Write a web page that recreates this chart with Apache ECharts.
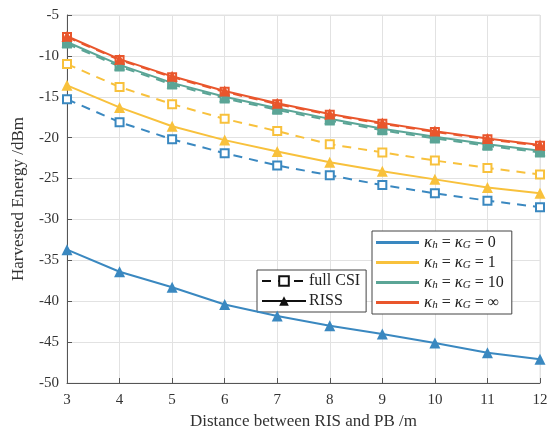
<!DOCTYPE html>
<html>
<head>
<meta charset="utf-8">
<script src="https://cdn.jsdelivr.net/npm/echarts@6/dist/echarts.min.js"></script>
<style>
  html, body { margin: 0; padding: 0; background: #fff; }
  #chart { width: 556px; height: 435px; }
</style>
</head>
<body>
<div id="chart"></div>
<script>
// distance between RIS and PB (m)
const distance = [3, 4, 5, 6, 7, 8, 9, 10, 11, 12]
const yTicks = [-50, -5]

// full CSI (dashed, squares)
const csi0 = [-15.3, -18.1, -20.2, -21.9, -23.4, -24.6, -25.8, -26.8, -27.7, -28.5]
const csi1 = [-11.0, -13.8, -15.9, -17.7, -19.2, -20.8, -21.8, -22.8, -23.7, -24.5]
const csi10 = [-8.5, -11.3, -13.5, -15.2, -16.6, -17.9, -19.1, -20.1, -21.0, -21.8]
const csiInf = [-7.7, -10.5, -12.6, -14.4, -15.9, -17.2, -18.3, -19.3, -20.2, -21.0]

// RISS (solid, triangles)
const riss0 = [-33.7, -36.4, -38.3, -40.4, -41.8, -43.0, -44.0, -45.1, -46.3, -47.1]
const riss1 = [-13.6, -16.3, -18.6, -20.3, -21.7, -23.0, -24.1, -25.1, -26.1, -26.8]
const riss10 = [-8.3, -11.1, -13.3, -15.0, -16.4, -17.7, -18.9, -19.9, -20.8, -21.6]
const rissInf = [-7.6, -10.4, -12.5, -14.3, -15.8, -17.1, -18.2, -19.2, -20.1, -20.9]

const kappaNames = ['k0', 'k1', 'k10', 'kInf']
const kappaLabels = ['0', '1', '10', '∞']
const colors = ['#3a88c0', '#f8c13c', '#5ba596', '#e9562c']

const font = 'Liberation Serif'

const toPairs = (ys) => distance.map((x, i) => [x, ys[i]])

function csiSeries(ys, color) {
    return {
        type: 'line',
        name: 'csi-' + color,
        data: toPairs(ys),
        symbol: 'emptyRect',
        symbolSize: 8,
        lineStyle: { color: color, width: 2, type: [9, 7] },
        itemStyle: { color: color, borderWidth: 2 },
        animation: false,
        z: 3
    }
}

function rissSeries(ys, color) {
    return {
        type: 'line',
        name: 'riss-' + color,
        data: toPairs(ys),
        symbol: 'triangle',
        symbolSize: 11,
        lineStyle: { color: color, width: 2 },
        itemStyle: { color: color },
        animation: false,
        z: 4
    }
}

const series = []
const csiAll = [csi0, csi1, csi10, csiInf]
const rissAll = [riss0, riss1, riss10, rissInf]
for (let i = 0; i < 4; i++) {
    series.push(csiSeries(csiAll[i], colors[i]))
    series.push(rissSeries(rissAll[i], colors[i]))
}

// legend-only series
series.push({
    type: 'line', name: 'full CSI', data: [], symbol: 'rect', symbolSize: 8,
    lineStyle: { color: '#111', width: 2, type: [9, 7] },
    itemStyle: { color: '#fff', borderColor: '#111', borderWidth: 2 }
})
series.push({
    type: 'line', name: 'RISS', data: [], symbol: 'triangle', symbolSize: 11,
    lineStyle: { color: '#111', width: 2 },
    itemStyle: { color: '#111' }
})
kappaNames.forEach((n, i) => {
    series.push({
        type: 'line', name: n, data: [], symbol: 'none',
        lineStyle: { color: colors[i], width: 2.5 },
        itemStyle: { color: colors[i] }
    })
})

const option = {
    backgroundColor: '#fff',
    animation: false,
    grid: {
        left: 67, right: 16, top: 15, bottom: 49,
        show: true, borderColor: '#e2e2e2', borderWidth: 1
    },
    xAxis: {
        type: 'value',
        min: 3, max: 12, interval: 1,
        name: 'Distance between RIS and PB /m',
        nameLocation: 'middle',
        nameGap: 30,
        nameTextStyle: { fontFamily: font, fontSize: 17, color: '#333' },
        axisLine: { lineStyle: { color: '#555', width: 1 } },
        axisTick: { inside: true, length: 5, lineStyle: { color: '#555' } },
        axisLabel: { fontFamily: font, fontSize: 15, color: '#333', margin: 10 },
        splitLine: { show: true, lineStyle: { color: '#e2e2e2', width: 1 } }
    },
    yAxis: {
        type: 'value',
        min: yTicks[0], max: yTicks[1], interval: 5,
        name: 'Harvested Energy /dBm',
        nameLocation: 'middle',
        nameGap: 40,
        nameTextStyle: { fontFamily: font, fontSize: 17, color: '#333' },
        axisLine: { show: true, lineStyle: { color: '#555', width: 1 } },
        axisTick: { show: true, inside: true, length: 5, lineStyle: { color: '#555' } },
        axisLabel: { fontFamily: font, fontSize: 15, color: '#333', margin: 8 },
        splitLine: { show: true, lineStyle: { color: '#e2e2e2', width: 1 } }
    },
    legend: [
        {
            data: ['full CSI', 'RISS'],
            orient: 'vertical',
            left: 257, top: 270,
            padding: [3, 6, 3, 4],
            itemWidth: 44, itemHeight: 12, itemGap: 4,
            backgroundColor: '#fff',
            borderColor: '#444', borderWidth: 1,
            selectedMode: false,
            textStyle: { fontFamily: font, fontSize: 16, color: '#222', padding: [0, 0, 0, -2] }
        },
        {
            data: kappaNames,
            orient: 'vertical',
            icon: 'rect',
            left: 372, top: 231,
            padding: [3, 8, 3, 4],
            itemWidth: 43, itemHeight: 3, itemGap: 3,
            backgroundColor: '#fff',
            borderColor: '#444', borderWidth: 1,
            selectedMode: false,
            formatter: (name) => {
                const v = kappaLabels[kappaNames.indexOf(name)]
                return '{k|κ}{s|h}{t| = }{k|κ}{s|G}{t| = ' + v + '}'
            },
            textStyle: {
                fontFamily: font, fontSize: 16, color: '#222', lineHeight: 17,
                rich: {
                    k: { fontFamily: font, fontSize: 17, fontStyle: 'italic', color: '#222', lineHeight: 17 },
                    s: { fontFamily: font, fontSize: 11, fontStyle: 'italic', color: '#222', verticalAlign: 'bottom', lineHeight: 10, padding: [5, 0, 0, 0] },
                    t: { fontFamily: font, fontSize: 16, color: '#222', lineHeight: 17 }
                }
            }
        }
    ],
    series: series
}

const chart = echarts.init(document.getElementById('chart'), null, { renderer: 'canvas' })
chart.setOption(option)
</script>
</body>
</html>
